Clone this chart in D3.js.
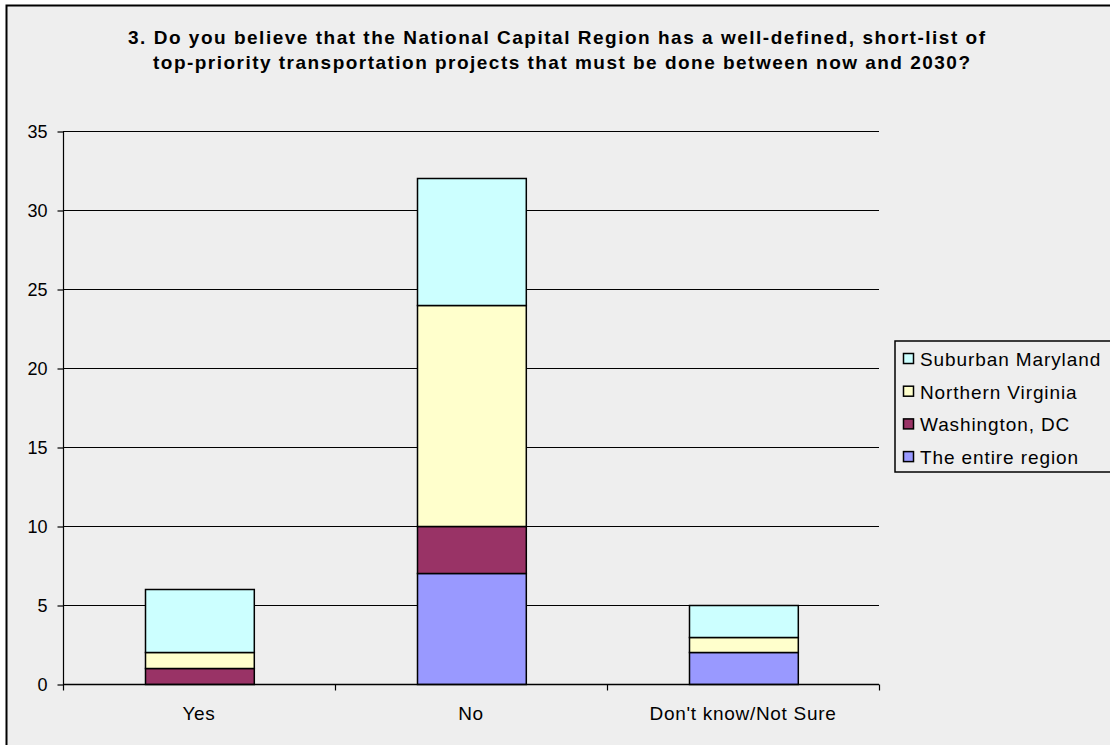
<!DOCTYPE html>
<html><head><meta charset="utf-8">
<script src="https://cdn.jsdelivr.net/npm/d3@7"></script>
<style>body{margin:0;background:#fff;}svg{display:block;font-family:"Liberation Sans",Arial,sans-serif;}</style>
</head><body><svg id="c" width="1110" height="745"></svg>
<script>
const categories = ["Yes", "No", "Don't know/Not Sure"];
const seriesNames = ["The entire region", "Washington, DC", "Northern Virginia", "Suburban Maryland"];
const entireRegion = [0, 7, 2];
const washingtonDC = [1, 3, 0];
const northernVirginia = [1, 14, 1];
const suburbanMaryland = [4, 8, 2];
const yTicks = [0, 5, 10, 15, 20, 25, 30, 35];
const colors = ["#9999FF", "#993366", "#FFFFCC", "#CCFFFF"];
const titleLines = ["3. Do you believe that the National Capital Region has a well-defined, short-list of",
  "top-priority transportation projects that must be done between now and 2030?"];

const svg = d3.select("#c");
svg.append("rect").attr("x", 6.5).attr("y", 5.5).attr("width", 1110).attr("height", 745)
  .attr("fill", "#EEEEEE").attr("stroke", "#000").attr("stroke-width", 2);

const L = 63, R = 879, T = 131, B = 684;
const x = d3.scaleBand().domain(categories).range([L, R]).paddingInner(0.6).paddingOuter(0.3);
const y = d3.scaleLinear().domain([0, 35]).range([B, T]);

const rows = categories.map((c, i) => ({cat: c, "The entire region": entireRegion[i], "Washington, DC": washingtonDC[i],
  "Northern Virginia": northernVirginia[i], "Suburban Maryland": suburbanMaryland[i]}));
const stacked = d3.stack().keys(seriesNames)(rows);

// gridlines
svg.append("g").selectAll("line").data(yTicks.filter(d => d > 0)).join("line")
  .attr("x1", L).attr("x2", R).attr("y1", d => Math.round(y(d)) + 0.5).attr("y2", d => Math.round(y(d)) + 0.5)
  .attr("stroke", "#000").attr("stroke-width", 1);

// bars
stacked.forEach((s, si) => {
  svg.append("g").selectAll("rect").data(s.filter(d => d[1] - d[0] > 0)).join("rect")
    .attr("x", d => Math.round(x(d.data.cat)) + 0.5)
    .attr("width", x.bandwidth())
    .attr("y", d => Math.round(y(d[1])) + 0.5)
    .attr("height", d => Math.round(y(d[0])) - Math.round(y(d[1])))
    .attr("fill", colors[si]).attr("stroke", "#000").attr("stroke-width", 1.5);
});

// y axis
const ya = svg.append("g").attr("transform", `translate(${L + 0.5},0.5)`)
  .call(d3.axisLeft(y).tickValues(yTicks).tickSize(6).tickPadding(10).tickFormat(d3.format("d")));
ya.selectAll("text").attr("font-size", 18).attr("font-family", "Liberation Sans, Arial").attr("fill", "#000");
ya.selectAll("line,path").attr("stroke", "#000").attr("stroke-width", 1.2);
ya.select(".domain").attr("d", `M0,${T}V${B}`);

// x axis
const xa = svg.append("g").attr("transform", `translate(0,${B + 0.5})`);
xa.append("line").attr("x1", L).attr("x2", R).attr("stroke", "#000").attr("stroke-width", 1.5);
const edges = d3.range(categories.length + 1).map(i => L + i * (R - L) / categories.length);
xa.selectAll(".tk").data(edges).join("line").attr("class", "tk")
  .attr("x1", d => Math.round(d) + 0.5).attr("x2", d => Math.round(d) + 0.5).attr("y1", 0).attr("y2", 6)
  .attr("stroke", "#000").attr("stroke-width", 1.2);
xa.selectAll("text").data(categories).join("text")
  .attr("x", d => x(d) + x.bandwidth() / 2).attr("y", 35).attr("text-anchor", "middle")
  .attr("font-size", 19).attr("letter-spacing", 0.7).text(d => d);

// title
const titleX = [128, 153], titleW = [857, 817];
svg.append("g").selectAll("text").data(titleLines).join("text")
  .attr("x", (d, i) => titleX[i]).attr("y", (d, i) => 44 + i * 25)
  .attr("textLength", (d, i) => titleW[i]).attr("lengthAdjust", "spacing")
  .attr("font-size", 19).attr("font-weight", "bold").text(d => d);

// legend
const lg = svg.append("g");
lg.append("rect").attr("x", 895).attr("y", 341).attr("width", 230).attr("height", 131)
  .attr("fill", "#EEEEEE").attr("stroke", "#000").attr("stroke-width", 1.5);
const legendOrder = seriesNames.map((n, i) => ({n, c: colors[i]})).reverse();
const li = lg.selectAll("g").data(legendOrder).join("g")
  .attr("transform", (d, i) => `translate(903,${366 + i * 32.7})`);
li.append("rect").attr("x", 0.5).attr("y", -12.5).attr("width", 10).attr("height", 10)
  .attr("fill", d => d.c).attr("stroke", "#000").attr("stroke-width", 1.5);
li.append("text").attr("x", 17).attr("y", 0).attr("font-size", 19).attr("letter-spacing", 0.9).text(d => d.n);
</script></body></html>
